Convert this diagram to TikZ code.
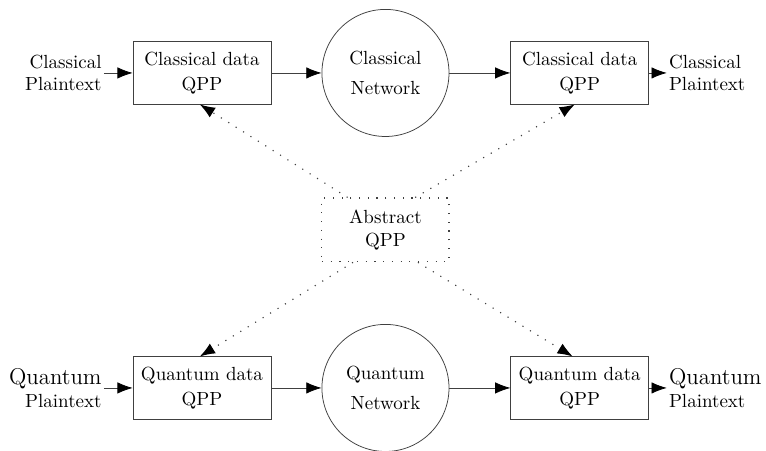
\documentclass[tikz,border=0pt]{standalone}
\usetikzlibrary{arrows.meta}

\begin{document}
\begin{tikzpicture}[
    qppbox/.style={rectangle,draw=black!75,minimum width=2.55cm,minimum height=1.15cm,inner sep=1pt,align=center},
    netnode/.style={circle,draw=black!75,minimum size=2.35cm,inner sep=0pt,align=center},
    absbox/.style={rectangle,draw=black!75,semithick,loosely dotted,minimum width=2.35cm,minimum height=1.18cm,align=center},
    inlabel/.style={inner sep=1pt,anchor=east,align=right},
    outlabel/.style={inner sep=1pt,anchor=west,align=left}]
    \useasboundingbox (0,0) rectangle (14.165,8.339);
    \begin{scope}
        \node[inlabel] (cin) at (1.92,6.99) {Classical\\Plaintext};
        \node[qppbox] (cenc) at (3.735,6.99) {Classical data\\[1pt]QPP};
        \node[netnode] (cnet) at (7.128,6.99) {Classical\\[4pt]Network};
        \node[qppbox] (cdec) at (10.72,6.99) {Classical data\\[1pt]QPP};
        \node[outlabel] (cout) at (12.33,6.99) {Classical\\Plaintext};
        \node[absbox] (aqpp) at (7.128,4.087) {Abstract\\QPP};
        \node[inlabel] (qin) at (1.92,1.165) {{\large Quantum}\\Plaintext};
        \node[qppbox] (qenc) at (3.735,1.165) {Quantum data\\[1pt]QPP};
        \node[netnode] (qnet) at (7.128,1.165) {Quantum\\[4pt]Network};
        \node[qppbox] (qdec) at (10.72,1.165) {Quantum data\\[1pt]QPP};
        \node[outlabel] (qout) at (12.33,1.165) {{\large Quantum}\\Plaintext};
    \end{scope}
    \begin{scope}[
        every edge/.style={-{Latex[length=8pt,width=6pt,color=black]},draw=black!75}]
        \path (cin) edge (cenc);
        \path (cenc) edge (cnet);
        \path (cnet) edge (cdec);
        \path (cdec) edge (cout);
        \path (qin) edge (qenc);
        \path (qenc) edge (qnet);
        \path (qnet) edge (qdec);
        \path (qdec) edge (qout);
    \end{scope}
    \begin{scope}[
        every edge/.style={-{Latex[length=8pt,width=6pt,color=black]},draw=black!75,semithick,loosely dotted}]
        \path ([xshift=-0.7cm]aqpp.north) edge ([xshift=-0.04cm]cenc.south);
        \path ([xshift=0.55cm]aqpp.north) edge ([xshift=-0.09cm]cdec.south);
        \path ([xshift=-0.6cm]aqpp.south) edge ([xshift=-0.04cm]qenc.north);
        \path ([xshift=0.6cm]aqpp.south) edge ([xshift=-0.13cm]qdec.north);
    \end{scope}
\end{tikzpicture}
\end{document}
